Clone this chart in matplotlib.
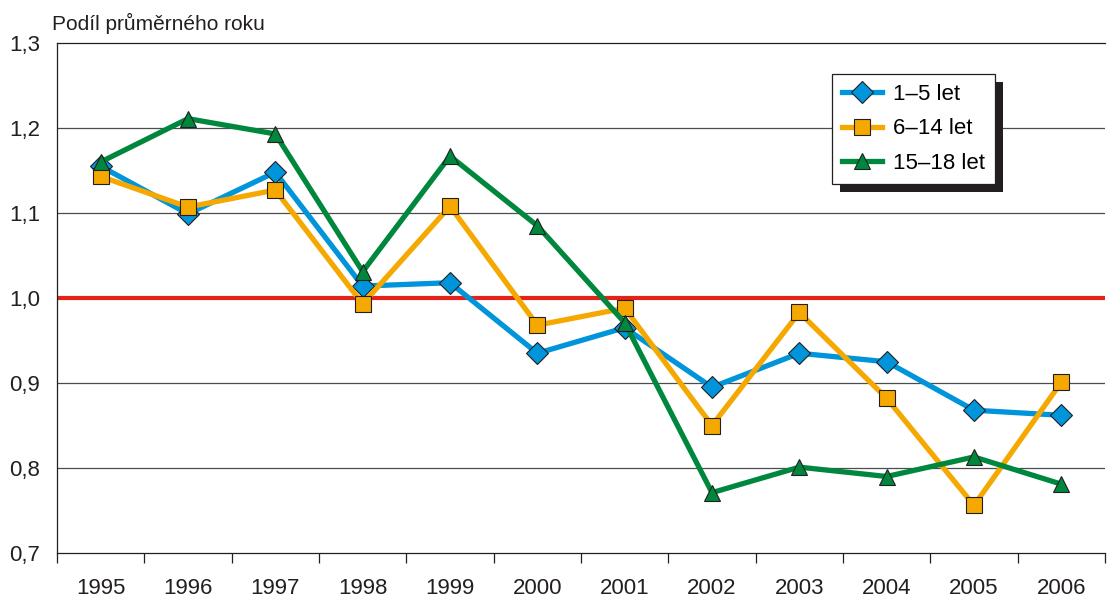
import matplotlib.pyplot as plt
from matplotlib.patches import Rectangle
from matplotlib.ticker import FixedLocator, FuncFormatter

plt.rcParams['font.family'] = ['Liberation Sans', 'DejaVu Sans']

# ------------------------------------
# Data
# ------------------------------------
years = ["1995", "1996", "1997", "1998", "1999", "2000",
         "2001", "2002", "2003", "2004", "2005", "2006"]

age_1_5 = [1.155, 1.099, 1.148, 1.014, 1.018, 0.935,
           0.965, 0.895, 0.935, 0.925, 0.868, 0.862]

age_6_14 = [1.143, 1.107, 1.127, 0.993, 1.108, 0.968,
            0.988, 0.850, 0.983, 0.882, 0.756, 0.901]

age_15_18 = [1.160, 1.211, 1.193, 1.031, 1.167, 1.085,
             0.971, 0.771, 0.801, 0.790, 0.813, 0.781]

series_labels = ["1–5 let", "6–14 let", "15–18 let"]
y_ticks = [0.7, 0.8, 0.9, 1.0, 1.1, 1.2, 1.3]

# ------------------------------------
# Figure
# ------------------------------------
fig = plt.figure(figsize=(11.07, 5.99), dpi=100)
ax = fig.add_axes([57 / 1107, 46 / 599, 1048 / 1107, 510 / 599])

x = list(range(len(years)))

for yv in [0.8, 0.9, 1.1, 1.2]:
    ax.axhline(yv, color="#4d4d4d", linewidth=0.9, zorder=1)
ax.axhline(1.0, color="#e2231a", linewidth=3.0, zorder=2)

ax.plot(x, age_1_5, color="#0095da", linewidth=3.8, marker="D",
        markersize=11.5, markerfacecolor="#0095da", markeredgecolor="#231f20",
        markeredgewidth=0.8, label=series_labels[0], zorder=3)
ax.plot(x, age_6_14, color="#f5a800", linewidth=3.8, marker="s",
        markersize=11, markerfacecolor="#f5a800", markeredgecolor="#231f20",
        markeredgewidth=0.8, label=series_labels[1], zorder=4)
ax.plot(x, age_15_18, color="#00873e", linewidth=3.8, marker="^",
        markersize=12, markerfacecolor="#00873e", markeredgecolor="#231f20",
        markeredgewidth=0.8, label=series_labels[2], zorder=5)

ax.set_xlim(-0.5, len(years) - 0.5)
ax.set_ylim(0.7, 1.3)

ax.set_xticks(x)
ax.set_xticklabels(years, fontsize=16, color="#231f20")
ax.xaxis.set_minor_locator(FixedLocator([i - 0.5 for i in range(len(years) + 1)]))
ax.tick_params(axis="x", which="major", length=0, pad=18)
ax.tick_params(axis="x", which="minor", length=7, color="#231f20", width=0.9)

ax.set_yticks(y_ticks)
ax.yaxis.set_major_formatter(FuncFormatter(lambda v, p: f"{v:.1f}".replace(".", ",")))
ax.tick_params(axis="y", length=0, pad=12, labelsize=16, labelcolor="#231f20")

ax.spines["right"].set_visible(False)
for side in ["top", "left", "bottom"]:
    ax.spines[side].set_color("#231f20")
    ax.spines[side].set_linewidth(0.9)

fig.text(52 / 1107, 1 - 23 / 599, "Podíl průměrného roku", fontsize=15,
         color="#231f20", va="center", ha="left")

leg = ax.legend(loc="upper left", bbox_to_anchor=(832 / 1107, 1 - 74 / 599),
                bbox_transform=fig.transFigure, fancybox=False, fontsize=16,
                handlelength=1.8, handletextpad=0.5, borderpad=0.45,
                labelspacing=0.6, borderaxespad=0, framealpha=1,
                edgecolor="#231f20")
leg.get_frame().set_linewidth(0.9)
leg.set_zorder(10)

# hard black shadow behind the legend box
fig.canvas.draw()
bb = leg.get_window_extent()
shadow = Rectangle((bb.x0 + 8, bb.y0 - 8), bb.width, bb.height,
                   transform=None, facecolor="#231f20", edgecolor="none", zorder=9)
ax.add_artist(shadow)

fig.savefig("out.png", dpi=100)
